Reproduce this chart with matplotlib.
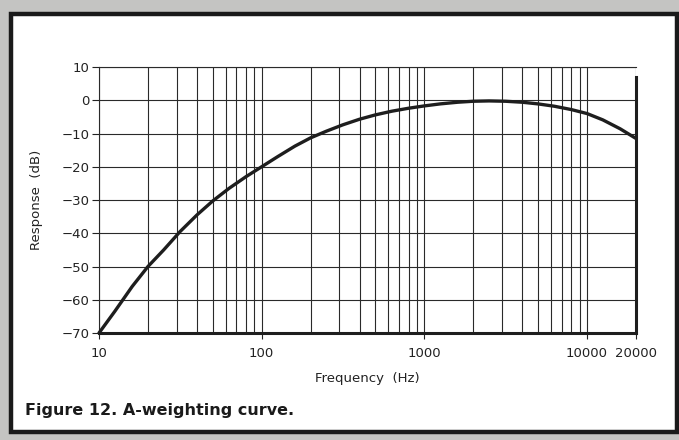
import numpy as np
import matplotlib.pyplot as plt
from matplotlib.patches import Rectangle
from matplotlib.ticker import FixedLocator, NullFormatter

# A-weighting response
freq = [10, 12.5, 16, 20, 25, 31.5, 40, 50, 63, 80, 100, 125, 160, 200, 250,
        315, 400, 500, 630, 800, 1000, 1250, 1600, 2000, 2500, 3150, 4000,
        5000, 6300, 8000, 10000, 12500, 16000, 20000]
response = [-70, -63.5, -56, -50, -45, -39.5, -34.5, -30.3, -26.5, -23, -20,
            -17, -13.8, -11.3, -9.3, -7.4, -5.7, -4.4, -3.3, -2.4, -1.7, -1.1,
            -0.6, -0.3, -0.2, -0.3, -0.6, -1.1, -1.8, -2.8, -4, -5.9, -8.6, -11.5]

x_ticks = [10, 100, 1000, 10000, 20000]
x_labels = ["10", "100", "1000", "10000", "20000"]
y_ticks = list(range(-70, 11, 10))

W, H = 679, 440
fig = plt.figure(figsize=(W / 100, H / 100), dpi=100)
fig.patch.set_facecolor("#c4c4c2")

# white panel with dark frame, on a background axes
bg = fig.add_axes([0, 0, 1, 1], zorder=-1)
bg.set_xlim(0, W)
bg.set_ylim(H, 0)
bg.axis("off")
bg.add_patch(Rectangle((11, 14), 666, 418, facecolor="white",
                       edgecolor="#1a1a1a", linewidth=3.2))

ax = fig.add_axes([99 / W, (H - 333) / H, (636 - 99) / W, (333 - 67) / H])
ax.set_facecolor("white")
ax.set_xscale("log")
ax.set_xlim(10, 20000)
ax.set_ylim(-70, 10)

# grid lines
minor = [m * d for d in (10, 100, 1000) for m in range(2, 10)]
ax.xaxis.set_minor_locator(FixedLocator(minor))
ax.xaxis.set_minor_formatter(NullFormatter())
ax.xaxis.set_major_locator(FixedLocator(x_ticks))
ax.set_xticklabels(x_labels)
ax.set_yticks(y_ticks)
ax.grid(True, which="both", axis="x", color="#2a2a2a", linewidth=0.8)
ax.grid(True, which="major", axis="y", color="#2a2a2a", linewidth=0.8)

ax.plot(freq, response, color="#1e1e1e", linewidth=2.4, solid_capstyle="round",
        solid_joinstyle="round", zorder=5, clip_on=False)

for side in ("left", "top"):
    ax.spines[side].set_linewidth(0.8)
    ax.spines[side].set_color("#2a2a2a")
ax.spines["bottom"].set_linewidth(2.2)
ax.spines["right"].set_linewidth(2.2)
ax.spines["right"].set_bounds(-70, 7)
ax.spines["bottom"].set_color("#1e1e1e")
ax.spines["right"].set_color("#1e1e1e")

ax.tick_params(axis="y", direction="out", length=5, width=0.8, labelsize=9.5,
               colors="#222222", pad=2)
ax.tick_params(axis="x", which="major", direction="out", length=4, width=0.8,
               labelsize=9.5, colors="#222222", pad=6)
ax.tick_params(axis="x", which="minor", length=0)

ax.set_xlabel("Frequency  (Hz)", fontsize=9.5, color="#222222", labelpad=9)
ax.set_ylabel("Response  (dB)", fontsize=9.5, color="#222222", labelpad=13)

fig.text(25 / W, (H - 410) / H, "Figure 12. A-weighting curve.", fontsize=11.5,
         fontweight="bold", color="#1a1a1a", va="center", ha="left")

fig.savefig("out.png", dpi=100, facecolor=fig.get_facecolor())
